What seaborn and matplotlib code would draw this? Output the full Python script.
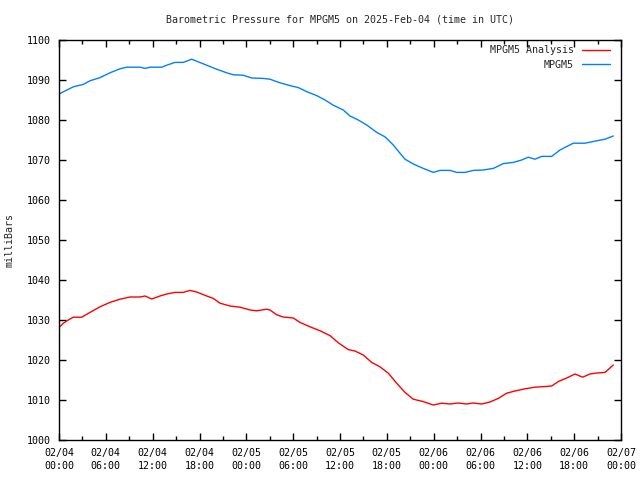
import matplotlib
matplotlib.use("Agg")
import matplotlib.pyplot as plt
import matplotlib.dates as mdates
import pandas as pd
import seaborn as sns

start = pd.Timestamp("2025-02-04 00:00")

# hours after 2025-02-04 00:00 UTC, pressure in millibars
station_hours = [0, 1.83, 3.11, 3.97, 5.25, 6.53, 7.81, 8.67, 10.38, 11.02, 11.66,
                 13.16, 13.8, 14.86, 15.92, 17.0, 17.64, 18.92, 20.2, 21.48, 22.33,
                 23.61, 24.69, 26.17, 27.03, 28.31, 29.59, 30.66, 31.73, 33.01, 34.08,
                 35.14, 36.42, 37.28, 38.34, 39.42, 40.7, 41.76, 42.83, 43.68, 44.33,
                 45.39, 46.67, 47.95, 48.81, 50.09, 50.95, 52.01, 53.07, 54.36, 55.64,
                 56.92, 58.2, 59.27, 60.12, 60.98, 61.84, 63.12, 64.18, 65.89, 67.38,
                 68.88, 69.95, 71.01]
station_mb = [1086.5, 1088.3, 1088.9, 1089.8, 1090.6, 1091.8, 1092.8, 1093.2, 1093.2, 1092.9, 1093.2,
              1093.2, 1093.7, 1094.4, 1094.4, 1095.2, 1094.7, 1093.7, 1092.7, 1091.8, 1091.3,
              1091.2, 1090.5, 1090.4, 1090.2, 1089.3, 1088.6, 1088.1, 1087.1, 1086.1, 1085.0,
              1083.7, 1082.5, 1081.0, 1080.0, 1078.75, 1076.9, 1075.8, 1073.75, 1071.7, 1070.2,
              1069.0, 1067.9, 1066.9, 1067.4, 1067.4, 1066.9, 1066.9, 1067.4, 1067.5, 1067.9,
              1069.1, 1069.4, 1070.0, 1070.7, 1070.2, 1070.9, 1070.9, 1072.5, 1074.2, 1074.2,
              1074.8, 1075.2, 1076.0]

analysis_hours = [0, 0.55, 1.19, 1.83, 2.91, 3.97, 5.25, 6.53, 7.81, 9.1, 10.38,
                  11.02, 11.88, 12.94, 13.8, 14.86, 15.92, 16.78, 17.64, 18.92, 19.77,
                  20.63, 21.91, 23.19, 24.47, 25.33, 26.61, 27.03, 27.89, 28.73, 30.02,
                  30.87, 32.16, 33.44, 34.72, 35.78, 37.06, 37.92, 38.98, 40.06, 41.12,
                  42.19, 43.26, 44.33, 45.39, 46.67, 47.95, 49.03, 50.09, 51.15, 52.23,
                  53.07, 54.15, 55.21, 56.28, 57.35, 58.42, 59.7, 60.98, 62.48, 63.12,
                  63.96, 65.04, 66.1, 67.09, 68.02, 68.88, 69.95, 71.01]
analysis_mb = [1028.1, 1029.2, 1030.0, 1030.7, 1030.7, 1031.9, 1033.3, 1034.4, 1035.2, 1035.75, 1035.75,
               1036.0, 1035.25, 1036.0, 1036.5, 1036.9, 1036.9, 1037.4, 1037.0, 1036.0, 1035.4,
               1034.2, 1033.5, 1033.2, 1032.5, 1032.3, 1032.7, 1032.5, 1031.3, 1030.75, 1030.5,
               1029.4, 1028.3, 1027.3, 1026.1, 1024.3, 1022.6, 1022.25, 1021.25, 1019.4, 1018.3,
               1016.7, 1014.2, 1011.9, 1010.2, 1009.6, 1008.75, 1009.2, 1009.0, 1009.25, 1009.0,
               1009.25, 1009.0, 1009.5, 1010.4, 1011.7, 1012.25, 1012.8, 1013.2, 1013.4, 1013.5,
               1014.6, 1015.5, 1016.5, 1015.7, 1016.5, 1016.75, 1016.9, 1018.75]

series_names = ["MPGM5 Analysis", "MPGM5"]
series_colors = ["#ff0000", "#0080ff"]

df = pd.concat([
    pd.DataFrame({"time": start + pd.to_timedelta(analysis_hours, unit="h"),
                  "mb": analysis_mb, "series": series_names[0]}),
    pd.DataFrame({"time": start + pd.to_timedelta(station_hours, unit="h"),
                  "mb": station_mb, "series": series_names[1]}),
])

sns.set_style("ticks")
plt.rcParams["font.family"] = ["DejaVu Sans Mono"]
plt.rcParams["font.size"] = 7.2

fig = plt.figure(figsize=(6.4, 4.8), dpi=100)
ax = fig.add_axes([59 / 640, 40 / 480, 562 / 640, 400 / 480])

sns.lineplot(data=df, x="time", y="mb", hue="series", hue_order=series_names,
             palette=dict(zip(series_names, series_colors)), linewidth=1, ax=ax)

ax.set_xlim(start, start + pd.Timedelta(hours=72))
ax.set_ylim(1000, 1100)
ax.set_yticks(range(1000, 1101, 10))
ax.xaxis.set_major_locator(mdates.HourLocator(byhour=[0, 6, 12, 18]))
ax.xaxis.set_minor_locator(mdates.HourLocator(byhour=[3, 9, 15, 21]))
ax.xaxis.set_major_formatter(mdates.DateFormatter("%m/%d\n%H:%M"))

for s in ax.spines.values():
    s.set_visible(True)
    s.set_color("black")
    s.set_linewidth(1)
ax.tick_params(which="both", direction="in", top=True, right=True, colors="black",
               labelsize=7.2, width=1)
ax.tick_params(which="major", length=5, pad=6)
ax.tick_params(which="minor", length=3)
for lbl in ax.get_xticklabels():
    lbl.set_linespacing(1.35)

ax.set_xlabel("")
ax.set_ylabel("milliBars", fontsize=7.2, labelpad=9)
ax.set_title("Barometric Pressure for MPGM5 on 2025-Feb-04 (time in UTC)", fontsize=7.2, pad=12.5)

ax.legend(loc="upper right", frameon=False, markerfirst=False, fontsize=7.2,
          handlelength=2.8, handletextpad=0.8, labelspacing=0.45,
          bbox_to_anchor=(0.992, 1.005), borderaxespad=0.3)

fig.savefig("out.png", dpi=100)
